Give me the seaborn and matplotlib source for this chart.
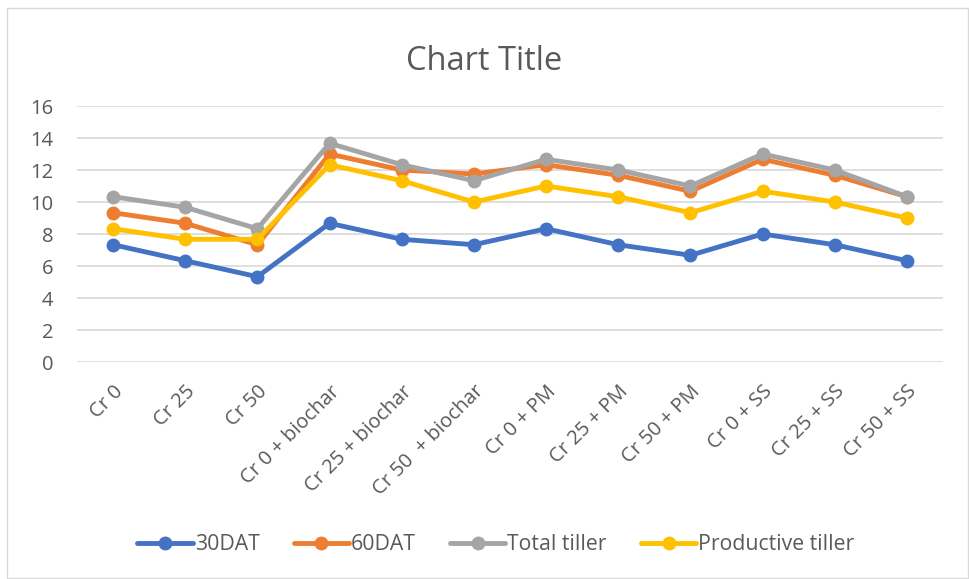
import numpy as np
import pandas as pd
import matplotlib
matplotlib.use("Agg")
import matplotlib.pyplot as plt
import seaborn as sns

treatments = ["Cr 0", "Cr 25", "Cr 50", "Cr 0 + biochar", "Cr 25 + biochar",
              "Cr 50  + biochar", "Cr 0 + PM", "Cr 25 + PM", "Cr 50 + PM",
              "Cr 0 + SS", "Cr 25 + SS", "Cr 50 + SS"]
dat30 = [7.33, 6.33, 5.33, 8.67, 7.67, 7.33, 8.33, 7.33, 6.67, 8.0, 7.33, 6.33]
dat60 = [9.33, 8.67, 7.33, 13.0, 12.0, 11.75, 12.33, 11.67, 10.67, 12.67, 11.67, 10.33]
total_tiller = [10.33, 9.67, 8.33, 13.67, 12.33, 11.33, 12.67, 12.0, 11.0, 13.0, 12.0, 10.33]
productive_tiller = [8.33, 7.67, 7.67, 12.33, 11.33, 10.0, 11.0, 10.33, 9.33, 10.67, 10.0, 9.0]

series = ["30DAT", "60DAT", "Total tiller", "Productive tiller"]
colors = ["#4472C4", "#ED7D31", "#A5A5A5", "#FFC000"]

df = pd.DataFrame({"treatment": treatments * 4,
                   "value": dat30 + dat60 + total_tiller + productive_tiller,
                   "series": np.repeat(series, len(treatments))})

sns.set_style("white")
plt.rcParams["font.family"] = ["Open Sans", "DejaVu Sans"]

fig = plt.figure(figsize=(9.69, 5.79), dpi=100)
ax = fig.add_axes([77 / 969, 1 - 362 / 579, (943 - 77) / 969, (362 - 106) / 579])

sns.lineplot(data=df, x="treatment", y="value", hue="series", hue_order=series,
             palette=colors, marker="o", markersize=10, markeredgewidth=0,
             linewidth=3.5, sort=False, ax=ax)

ax.set_ylim(0, 16)
ax.set_yticks(range(0, 17, 2))
ax.set_xlim(-0.5, len(treatments) - 0.5)
ax.yaxis.grid(True, color="#D9D9D9", linewidth=1.2)
ax.set_axisbelow(True)
for s in ax.spines.values():
    s.set_visible(False)
ax.set_xlabel("")
ax.set_ylabel("")
ax.tick_params(axis="both", length=0, labelsize=14.5, labelcolor="#595959")
ax.tick_params(axis="y", pad=17)
ax.tick_params(axis="x", pad=14)
plt.setp(ax.get_xticklabels(), rotation=45, ha="right", rotation_mode="anchor")

fig.text(0.5, 1 - 62 / 579, "Chart Title", ha="center", va="center",
         fontsize=23.5, color="#595959")

handles, labels = ax.get_legend_handles_labels()
ax.legend_.remove()
fig.legend(handles, labels, loc="center", bbox_to_anchor=(496 / 969, 1 - 545 / 579),
           ncol=4, frameon=False, fontsize=15.3, labelcolor="#595959",
           handlelength=2.6, handletextpad=0.1, columnspacing=1.6)

fig.add_artist(plt.Rectangle((7 / 969, 1 / 579), 961 / 969, 570 / 579,
                             transform=fig.transFigure, fill=False,
                             edgecolor="#D9D9D9", linewidth=1))

fig.savefig("out.png", dpi=100)
